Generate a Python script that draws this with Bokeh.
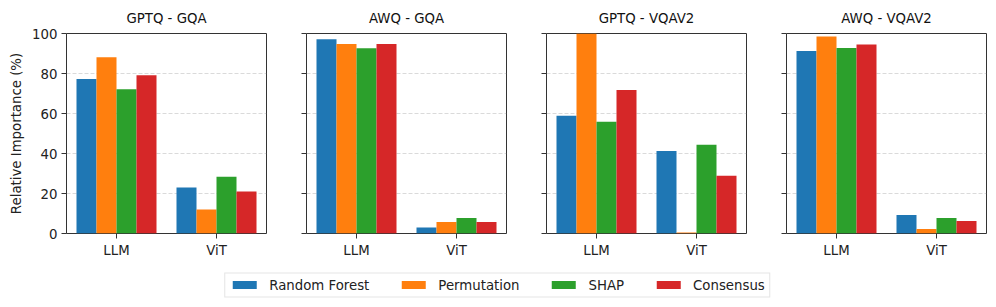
from bokeh.plotting import figure
from bokeh.models import (ColumnDataSource, FactorRange, Range1d, FixedTicker,
                          Legend, LegendItem, CustomJSTickFormatter)
from bokeh.transform import dodge
from bokeh.layouts import row, column
from bokeh.embed import file_html
from bokeh.resources import INLINE

# ---------------- data ----------------
components = ["LLM", "ViT"]
methods = ["Random Forest", "Permutation", "SHAP", "Consensus"]
colors = ["#1f77b4", "#ff7f0e", "#2ca02c", "#d62728"]
panel_titles = ["GPTQ - GQA", "AWQ - GQA", "GPTQ - VQAV2", "AWQ - VQAV2"]
y_ticks = [0, 20, 40, 60, 80, 100]

gptq_gqa_rf = [77.3, 23.0]
gptq_gqa_perm = [88.1, 12.0]
gptq_gqa_shap = [72.1, 28.4]
gptq_gqa_cons = [79.1, 21.0]

awq_gqa_rf = [97.1, 3.0]
awq_gqa_perm = [94.8, 5.7]
awq_gqa_shap = [92.6, 7.7]
awq_gqa_cons = [94.8, 5.7]

gptq_vqav2_rf = [58.9, 41.2]
gptq_vqav2_perm = [100.0, 0.5]
gptq_vqav2_shap = [55.9, 44.4]
gptq_vqav2_cons = [71.8, 28.9]

awq_vqav2_rf = [91.3, 9.2]
awq_vqav2_perm = [98.5, 2.2]
awq_vqav2_shap = [92.8, 7.7]
awq_vqav2_cons = [94.5, 6.3]

panel_values = [
    [gptq_gqa_rf, gptq_gqa_perm, gptq_gqa_shap, gptq_gqa_cons],
    [awq_gqa_rf, awq_gqa_perm, awq_gqa_shap, awq_gqa_cons],
    [gptq_vqav2_rf, gptq_vqav2_perm, gptq_vqav2_shap, gptq_vqav2_cons],
    [awq_vqav2_rf, awq_vqav2_perm, awq_vqav2_shap, awq_vqav2_cons],
]

FONT = "DejaVu Sans"
FS = "13.3px"
BAR_W = 0.2
keys = ["m0", "m1", "m2", "m3"]

figs = []
for i, (title, vals) in enumerate(zip(panel_titles, panel_values)):
    first = i == 0
    last = i == len(panel_titles) - 1
    bl = 66 if first else 20
    br = 8 if last else 20
    p = figure(x_range=FactorRange(factors=components, range_padding=0),
               y_range=Range1d(0, 100),
               width=bl + 200 + br, height=33 + 200 + 30,
               min_border_left=bl, min_border_right=br,
               min_border_top=33, min_border_bottom=30,
               output_backend="svg", toolbar_location=None, title=title)
    data = {"comp": components}
    for k, v in zip(keys, vals):
        data[k] = v
    src = ColumnDataSource(data)
    for j, k in enumerate(keys):
        off = (j - 1.5) * BAR_W
        p.vbar(x=dodge("comp", off, range=p.x_range), top=k, width=BAR_W,
               source=src, fill_color=colors[j], line_color=None)

    p.title.align = "center"
    p.title.text_font = FONT
    p.title.text_font_size = FS
    p.title.text_font_style = "normal"
    p.title.text_color = "#111111"
    p.title.standoff = 15

    p.outline_line_color = "#333333"
    p.outline_line_width = 1
    p.xgrid.grid_line_color = None
    p.ygrid.grid_line_color = "#b0b0b0"
    p.ygrid.grid_line_alpha = 0.6
    p.ygrid.grid_line_dash = "4 2"
    p.ygrid.grid_line_width = 0.8

    for ax in (p.xaxis[0], p.yaxis[0]):
        ax.axis_line_color = None
        ax.major_tick_line_color = "#333333"
        ax.major_tick_out = 5
        ax.major_tick_in = 0
        ax.minor_tick_line_color = None
        ax.major_label_text_font = FONT
        ax.major_label_text_font_size = FS
        ax.major_label_text_color = "#222222"
        ax.major_label_standoff = 4
    p.yaxis.ticker = FixedTicker(ticks=y_ticks)
    if first:
        p.yaxis.axis_label = "Relative Importance (%)"
        p.yaxis.axis_label_text_font = FONT
        p.yaxis.axis_label_text_font_size = FS
        p.yaxis.axis_label_text_font_style = "normal"
        p.yaxis.axis_label_text_color = "#222222"
        p.yaxis.axis_label_standoff = 5
    else:
        p.yaxis.formatter = CustomJSTickFormatter(code="return ''")
    figs.append(p)

# ---------------- legend ----------------
total_w = sum(f.width for f in figs)
lf = figure(width=total_w, height=43, x_range=Range1d(0, 1), y_range=Range1d(0, 1),
            x_axis_type=None, y_axis_type=None, output_backend="svg",
            toolbar_location=None, min_border=0)
lf.outline_line_color = None
lf.xgrid.grid_line_color = None
lf.ygrid.grid_line_color = None
items = []
for j, m in enumerate(methods):
    # zero-height placeholder bar, only used to draw the legend swatch
    ph = ColumnDataSource(dict(x=[0.5], top=[0.0]))
    r = lf.vbar(x="x", top="top", bottom=0.0, width=0.0, source=ph,
                fill_color=colors[j], line_color=None)
    items.append(LegendItem(label=m, renderers=[r]))
legend = Legend(items=items, orientation="horizontal", location="center",
                label_text_font=FONT, label_text_font_size=FS,
                label_text_color="#222222", glyph_width=30, glyph_height=10,
                label_standoff=10, spacing=29, padding=4, margin=0,
                label_height=14, border_line_color="#cccccc",
                border_line_width=1, background_fill_alpha=1)
lf.add_layout(legend)

layout = column(row(*figs, spacing=0), lf, spacing=0)
open("out.html", "w").write(file_html(layout, INLINE))
